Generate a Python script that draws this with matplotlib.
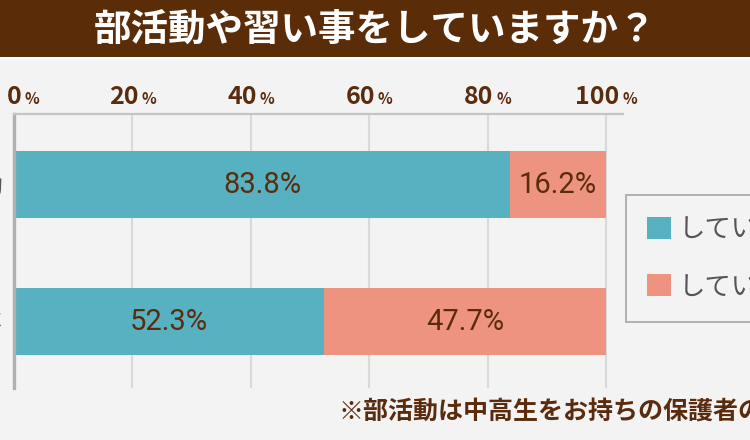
import matplotlib
matplotlib.use("Agg")
import matplotlib.pyplot as plt
from matplotlib.patches import Rectangle, Patch
from matplotlib.offsetbox import TextArea, HPacker, AnnotationBbox

plt.rcParams['font.family'] = ['Noto Sans CJK JP', 'DejaVu Sans']

# data
title = "部活動や習い事をしていますか？"
categories = ["部活動", "習い事"]
series_names = ["している", "していない"]
doing = [83.8, 52.3]
not_doing = [16.2, 47.7]
x_ticks = [0, 20, 40, 60, 80, 100]
note = "※部活動は中高生をお持ちの保護者のみ回答"

# colours
BG = "#f3f3f3"
BANNER = "#5a2c08"
BROWN = "#5a2b0c"
TEAL = "#58b1c0"
SALMON = "#ef9381"

W, H = 750, 440
fig = plt.figure(figsize=(7.5, 4.4), dpi=100, facecolor=BG)

# title banner
fig.patches.append(Rectangle((0, 1 - 57 / H), 1, 57 / H, transform=fig.transFigure,
                             facecolor=BANNER, edgecolor="none", zorder=0))
fig.patches.append(Rectangle((0, 1 - 59 / H), 1, 2 / H, transform=fig.transFigure,
                             facecolor="white", edgecolor="none", zorder=0))
fig.text(0.5, 1 - 29 / H, title, ha="center", va="center", color="white",
         fontsize=27, fontweight="bold")

# plot area
left, right, top, bottom = 14, 623, 114, 388
ax = fig.add_axes([left / W, 1 - bottom / H, (right - left) / W, (bottom - top) / H])
ax.set_facecolor("none")
px_per_pct = 5.92
ax.set_xlim(0, (right - left) / px_per_pct)
ax.set_ylim(1.485, -0.515)

y = range(len(categories))
ax.barh(y, doing, height=0.49, color=TEAL, zorder=2)
ax.barh(y, not_doing, left=doing, height=0.49, color=SALMON, zorder=2)

for i in y:
    ax.text(doing[i] / 2, i, f"{doing[i]}%", ha="center", va="center",
            color=BROWN, fontsize=21, family="Roboto", zorder=3)
    ax.text(doing[i] + not_doing[i] / 2, i, f"{not_doing[i]}%", ha="center", va="center",
            color=BROWN, fontsize=21, family="Roboto", zorder=3)

# grid and spines
ax.set_xticks(x_ticks)
ax.xaxis.grid(True, color="#d9d9d9", linewidth=1.5, zorder=1)
ax.tick_params(axis="x", length=0, labelbottom=False)
for s in ["right", "bottom"]:
    ax.spines[s].set_visible(False)
ax.spines["left"].set_color("#b0b0b0")
ax.spines["left"].set_linewidth(2.4)
ax.spines["top"].set_color("#c4c4c4")
ax.spines["top"].set_linewidth(1.6)

ax.set_yticks(list(y), labels=categories)
ax.tick_params(axis="y", length=0, pad=8, labelsize=17, labelcolor="#555555")

# tick labels on top: number with a smaller percent sign
for t in x_ticks:
    num = TextArea(str(t), textprops=dict(color=BROWN, fontsize=18, fontweight="bold"))
    pct = TextArea("%", textprops=dict(color=BROWN, fontsize=11, fontweight="bold"))
    box = HPacker(children=[num, pct], align="baseline", pad=0, sep=2)
    align = 0.23 if t == 0 else 0.5
    ab = AnnotationBbox(box, (t, (bottom - 97) / (bottom - top)),
                        xycoords=ax.get_xaxis_transform(), frameon=False,
                        box_alignment=(align, 0.5), annotation_clip=False)
    ax.add_artist(ab)

# legend
handles = [Patch(facecolor=TEAL, edgecolor="none"), Patch(facecolor=SALMON, edgecolor="none")]
leg = fig.legend(handles, series_names, loc="upper left",
                 bbox_to_anchor=(626 / W, 1 - 195 / H), frameon=True, fancybox=False,
                 facecolor=BG, edgecolor="#aaaaaa", framealpha=1, fontsize=19,
                 handlelength=0.9, handleheight=0.9, handletextpad=0.3,
                 labelspacing=1.15, borderpad=0.8, borderaxespad=0)
leg.get_frame().set_linewidth(1.3)
for txt in leg.get_texts():
    txt.set_color("#555555")

# footnote
fig.text(338 / W, 1 - 413 / H, note, ha="left", va="center", color=BROWN,
         fontsize=18, fontweight="bold")

fig.savefig("out.png", dpi=100, facecolor=BG)
